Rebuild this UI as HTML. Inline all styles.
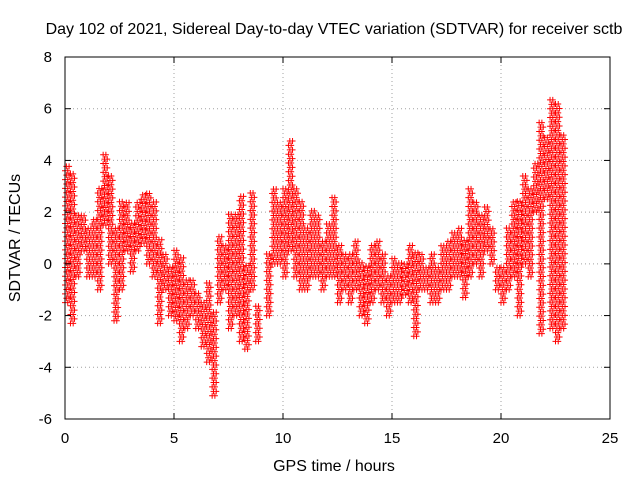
<!DOCTYPE html>
<html><head><meta charset="utf-8"><style>
body{margin:0;background:#fff;}
svg{display:block;font-family:"Liberation Sans",sans-serif;}
</style></head><body>
<svg id="chart" width="640" height="480">
<rect width="640" height="480" fill="#fff"/>
<g id="grid"></g>
<g id="marks"></g>
<rect x="65" y="57" width="545" height="362" fill="none" stroke="#000" stroke-width="1"/>
<g id="ticks"></g>
<text x="334" y="34" font-size="16" text-anchor="middle">Day 102 of 2021, Sidereal Day-to-day VTEC variation (SDTVAR) for receiver sctb</text>
<text x="334" y="471" font-size="16" text-anchor="middle">GPS time / hours</text>
<text x="20" y="238" font-size="16" text-anchor="middle" transform="rotate(-90 20 238)">SDTVAR / TECUs</text>
</svg>
<script>
const xTicks=[0,5,10,15,20,25];
const yTicks=[-6,-4,-2,0,2,4,6,8];
const binTimes=[0,0.25,0.5,0.75,1,1.25,1.5,1.75,2,2.25,2.5,2.75,3,3.25,3.5,3.75,4,4.25,4.5,4.75,5,5.25,5.5,5.75,6,6.25,6.5,6.75,7,7.25,7.5,7.75,8,8.25,8.5,8.75,9.25,9.5,9.75,10,10.25,10.5,10.75,11,11.25,11.5,11.75,12,12.25,12.5,12.75,13,13.25,13.5,13.75,14,14.25,14.5,14.75,15,15.25,15.5,15.75,16,16.25,16.5,16.75,17,17.25,17.5,17.75,18,18.25,18.5,18.75,19,19.25,19.5,19.75,20,20.25,20.5,20.75,21,21.25,21.5,21.75,22,22.25,22.5,22.75];
const binLow=[-1.5,-2.3,-0.5,0.5,-0.5,-0.5,-1.0,1.5,0.0,-2.2,-1.0,0.5,-0.3,0.5,0.8,0.0,-0.5,-2.3,-1.0,-2.0,-2.2,-3.0,-2.5,-2.0,-2.5,-3.2,-3.8,-5.1,-1.5,-1.0,-2.5,-2.0,-3.0,-3.3,-1.0,-3.0,-2.0,0.0,0.0,-0.5,0.5,-0.5,-1.0,-1.0,-0.5,-0.5,-1.0,-0.5,-0.5,-1.5,-1.0,-1.5,-1.0,-2.0,-2.3,-1.5,-1.0,-1.5,-2.0,-1.5,-1.5,-1.2,-1.5,-2.8,-1.0,-1.0,-1.5,-1.5,-1.0,-1.0,-0.5,-0.5,-1.3,-0.5,0.0,-0.5,0.5,0.0,-1.0,-1.5,-1.0,-0.5,-2.0,0.0,-0.5,2.0,-2.7,2.5,-2.5,-3.0,-2.5];
const binHigh=[3.8,3.5,2.0,2.0,1.5,1.8,3.0,4.3,3.5,1.5,2.5,2.5,1.7,2.5,2.8,2.8,2.5,1.0,0.5,0.0,0.6,0.3,-0.5,-0.5,-1.0,-1.5,-0.6,-1.8,1.2,0.8,2.0,2.0,2.7,0.0,2.8,-1.5,0.5,3.0,2.5,3.0,4.8,3.0,2.5,1.5,2.2,2.0,1.0,1.7,2.7,0.8,0.5,0.5,1.0,0.2,0.0,0.8,1.0,0.5,-0.3,0.3,0.2,0.0,0.8,0.5,0.5,0.0,0.5,0.0,0.8,1.0,1.3,1.5,1.0,3.0,2.5,2.0,2.2,1.5,0.0,0.0,1.5,2.5,2.5,3.5,3.0,4.0,5.5,5.0,6.5,6.3,5.0];
const X=t=>65+t*545/25, Y=v=>419-(v+6)*362/14;
const NS='http://www.w3.org/2000/svg';
const grid=document.getElementById('grid'),ticks=document.getElementById('ticks'),marks=document.getElementById('marks');
function mk(tag,attrs,parent){const e=document.createElementNS(NS,tag);for(const k in attrs)e.setAttribute(k,attrs[k]);parent.appendChild(e);return e;}
xTicks.forEach(t=>{
 if(t>0&&t<25){const g=mk('line',{x1:X(t),x2:X(t),y1:57,y2:419,stroke:'#a0a0a0','stroke-dasharray':'1,3'},grid);
 
 }
 mk('line',{x1:X(t),x2:X(t),y1:419,y2:413,stroke:'#000'},ticks);
 mk('line',{x1:X(t),x2:X(t),y1:57,y2:63,stroke:'#000'},ticks);
 const l=mk('text',{x:X(t),y:443,'font-size':15,'text-anchor':'middle'},ticks);l.textContent=t;
 
 
});
yTicks.forEach(v=>{
 if(v>-6&&v<8){const g=mk('line',{x1:65,x2:610,y1:Y(v),y2:Y(v),stroke:'#a0a0a0','stroke-dasharray':'1,3'},grid);
 
 }
 mk('line',{x1:65,x2:71,y1:Y(v),y2:Y(v),stroke:'#000'},ticks);
 mk('line',{x1:610,x2:604,y1:Y(v),y2:Y(v),stroke:'#000'},ticks);
 const l=mk('text',{x:52,y:Y(v)+5,'font-size':15,'text-anchor':'end'},ticks);l.textContent=v;
 
 
});
let d='';
binTimes.forEach((t,i)=>{
 const lo=binLow[i],hi=binHigh[i];
 for(let k=0;k<4;k++){
  const tx=t+k*0.0625;
  for(let v=lo+(k%2)*0.17;v<=hi;v+=0.34){
   const px=X(tx),py=Y(v);
   d+=`M${px-3} ${py}h6M${px} ${py-3}v6`;
  }
 }
});
const p=mk('path',{d:d,stroke:'#ff0000','stroke-width':1,fill:'none'},marks);


</script>
</body></html>
